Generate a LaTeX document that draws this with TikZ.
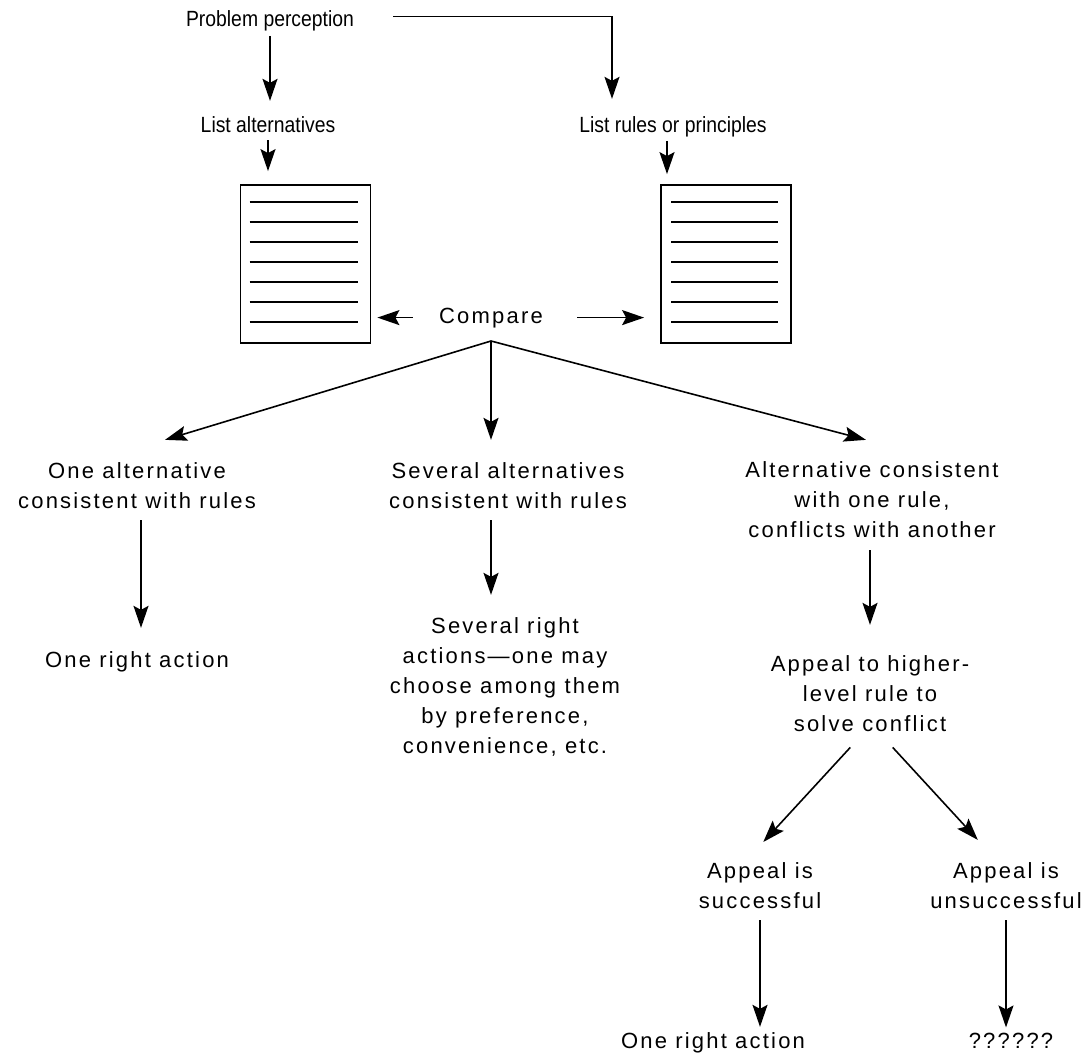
\documentclass[tikz,border=0pt]{standalone}
\usepackage{fontspec}
\setmainfont{Liberation Sans}[LetterSpace=10]
\newfontfamily\topfont{Liberation Sans}[FakeStretch=0.88]
\usetikzlibrary{arrows.meta,calc}
\begin{document}
\begin{tikzpicture}[x=1pt,y=-1pt,
  lbl/.style={inner sep=0pt, align=center, font=\fontsize{22}{30}\selectfont, anchor=base},
  toplbl/.style={lbl, font=\topfont\fontsize{22}{26}\selectfont},
  arr/.style={line width=1.6pt, -{Stealth[length=22pt,width=15pt,inset=4pt]}},
  docbox/.style={draw, line width=1.8pt, minimum width=130pt, minimum height=158pt, inner sep=0pt},
  docline/.style={line width=1.6pt}
]
\useasboundingbox (0,0) rectangle (1084,1062);

% text nodes (multi-line: y is the baseline of the last line)
\node[toplbl] (prob) at (270,27) {Problem perception};
\node[toplbl] (listalt) at (268,133) {List alternatives};
\node[toplbl] (listrules) at (673,133) {List rules or principles};
\node[docbox] (box1) at (305.5,264) {};
\node[docbox] (box2) at (726,264) {};
\node[lbl] (compare) at (491,323) {Compare};
\coordinate (apex) at (491,341);
\node[lbl] (alt1) at (137,508) {One alternative\\consistent with rules};
\node[lbl] (alt2) at (508,508) {Several alternatives\\consistent with rules};
\node[lbl] (alt3) at (872,537) {Alternative consistent\\with one rule,\\conflicts with another};
\node[lbl] (act1) at (137,667) {One right action};
\node[lbl] (sev) at (505,753) {Several right\\actions—one may\\choose among them\\by preference,\\convenience, etc.};
\node[lbl] (appeal) at (870,731) {Appeal to higher-\\level rule to\\solve conflict};
\node[lbl] (succ) at (760,908) {Appeal is\\successful};
\node[lbl] (unsucc) at (1006,908) {Appeal is\\unsuccessful};
\node[lbl] (act2) at (713,1048) {One right action};
\node[lbl] (qq) at (1011,1048) {??????};

% document lines
\foreach \i in {0,...,6} {
  \draw[docline] ($(box1.north west)+(10,18+20*\i)$) -- ++(108,0);
  \draw[docline] ($(box2.north west)+(11,18+20*\i)$) -- ++(107,0);
}

% connectors
\draw[arr, shorten <=4pt, shorten >=16pt] (prob.south) -- (prob.south |- listalt.north);
\draw[arr, shorten <=7pt, shorten >=13pt] (listalt.south) -- (listalt.south |- box1.north);
\draw[arr, shorten <=39pt, shorten >=18pt] ([yshift=5pt]prob.east) -| ([xshift=-61pt]listrules.north);
\draw[arr, shorten <=3pt, shorten >=10pt] ([xshift=-6pt]listrules.south) -- ([xshift=-6pt]listrules.south |- box2.north);

\draw[arr, shorten <=26pt, shorten >=6pt] (compare.west) -- (compare.west -| box1.east);
\draw[arr, shorten <=34pt, shorten >=16pt] (compare.east) -- (compare.east -| box2.west);

\draw[arr] (apex) -- ([shift={(28,-22)}]alt1.north);
\draw[arr, shorten >=22pt] (apex) -- (apex |- alt2.north);
\draw[arr] (apex) -- ([shift={(-6,-21)}]alt3.north);

\draw[arr, shorten <=12pt, shorten >=23pt] ([xshift=4pt]alt1.south) -- ([xshift=4pt]alt1.south |- act1.north);
\draw[arr, shorten <=12pt, shorten >=22pt] (alt2.south -| apex) -- (apex |- sev.north);
\draw[arr, shorten <=13pt, shorten >=30pt] (alt3.south -| appeal.north) -- (appeal.north);

\draw[arr, shorten <=21.7pt, shorten >=27pt] ([xshift=-5pt]appeal.south) -- ([xshift=-15pt]succ.north);
\draw[arr, shorten <=21.7pt, shorten >=29.8pt] ([xshift=8pt]appeal.south) -- ([xshift=-8pt]unsucc.north);

\draw[arr, shorten <=12pt, shorten >=5pt] (succ.south) -- (succ.south |- act2.north);
\draw[arr, shorten <=12pt, shorten >=5pt] (unsucc.south) -- (unsucc.south |- qq.north);
\end{tikzpicture}
\end{document}
